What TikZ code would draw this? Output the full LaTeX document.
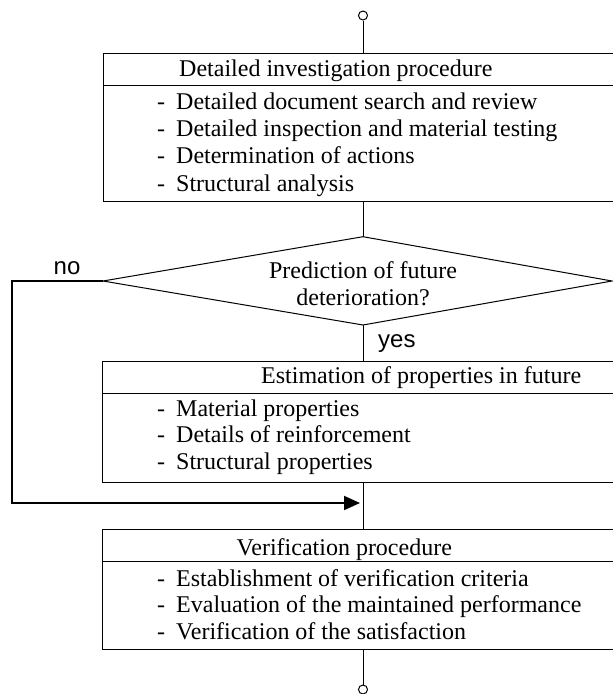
\documentclass[tikz,border=0pt]{standalone}
\usepackage{fontspec}
\setmainfont{Liberation Serif}
\newfontfamily\labelsans{Liberation Sans}
\usetikzlibrary{arrows.meta}
\begin{document}
\begin{tikzpicture}[x=1pt,y=-1pt,
  conn/.style={line width=1pt},
  boxpart/.style={draw, line width=1pt, rectangle, inner sep=0pt, anchor=north west, minimum width=560pt},
  txt/.style={anchor=base west, inner sep=0pt, font=\fontsize{24}{27}\selectfont},
  lbl/.style={anchor=base west, inner sep=0pt, font=\labelsans\fontsize{24}{27}\selectfont},
  term/.style={draw, circle, line width=1pt, minimum size=9pt, inner sep=0pt}]
\useasboundingbox (0,0) rectangle (613,694);
\clip (0,0) rectangle (613,694);
\newcommand\itm[1]{\makebox[19pt][l]{-}#1}
% terminals
\node[term] (start) at (363,15.5) {};
\node[term] (stop) at (363,689.5) {};
% box 1
\node[boxpart, minimum height=32.3pt] (h1) at (102.7,52.7) {};
\node[boxpart, minimum height=115.7pt] (l1) at (102.7,85) {};
\node[txt] (t1) at (179,76.7) {Detailed investigation procedure};
\node[txt] (t1a) at (157,109.5) {\itm{Detailed document search and review}};
\node[txt] (t1b) at (157,136.7) {\itm{Detailed inspection and material testing}};
\node[txt] (t1c) at (157,163.9) {\itm{Determination of actions}};
\node[txt] (t1d) at (157,191.1) {\itm{Structural analysis}};
% decision
\coordinate (qt) at (363,236.7);
\coordinate (qr) at (612,281);
\coordinate (qb) at (363,325);
\coordinate (ql) at (103,281);
\draw[conn] (qt) -- (qr) -- (qb) -- (ql) -- cycle;
\node[txt, anchor=base] (qa) at (363,278) {Prediction of future};
\node[txt, anchor=base] (qbx) at (363,305) {deterioration?};
% box 2
\node[boxpart, minimum height=32.3pt] (h2) at (102.4,361) {};
\node[boxpart, minimum height=88.4pt] (l2) at (102.4,393.3) {};
\node[txt] (t2) at (261,383.3) {Estimation of properties in future};
\node[txt] (t2a) at (157,416) {\itm{Material properties}};
\node[txt] (t2b) at (157,442.7) {\itm{Details of reinforcement}};
\node[txt] (t2c) at (157,469.4) {\itm{Structural properties}};
% box 3
\node[boxpart, minimum height=31.7pt] (h3) at (101.7,529.3) {};
\node[boxpart, minimum height=88.3pt] (l3) at (101.7,561) {};
\node[txt] (t3) at (236.5,555) {Verification procedure};
\node[txt] (t3a) at (157,586) {\itm{Establishment of verification criteria}};
\node[txt] (t3b) at (157,612.7) {\itm{Evaluation of the maintained performance}};
\node[txt] (t3c) at (157,639.4) {\itm{Verification of the satisfaction}};
% labels
\node[lbl] (no) at (53.5,274) {no};
\node[lbl] (yes) at (378,347.5) {yes};
% connectors
\draw[conn] (start.south) -- (start |- h1.north);
\draw[conn] (start |- l1.south) -- (qt);
\draw[conn] (qb) -- (start |- h2.north);
\draw[conn] (start |- l2.south) -- (start |- h3.north);
\draw[conn] (start |- l3.south) -- (stop.north);
\coordinate (nocorner) at (12,281);
\coordinate (noturn) at (12,503);
\coordinate (merge) at (360,503);
\draw[conn, line width=1.3pt] (ql) -- (nocorner) -- (noturn);
\draw[line width=2pt, line cap=rect, -{Triangle[length=16pt,width=14pt]}] (noturn) -- (merge);
\end{tikzpicture}
\end{document}
